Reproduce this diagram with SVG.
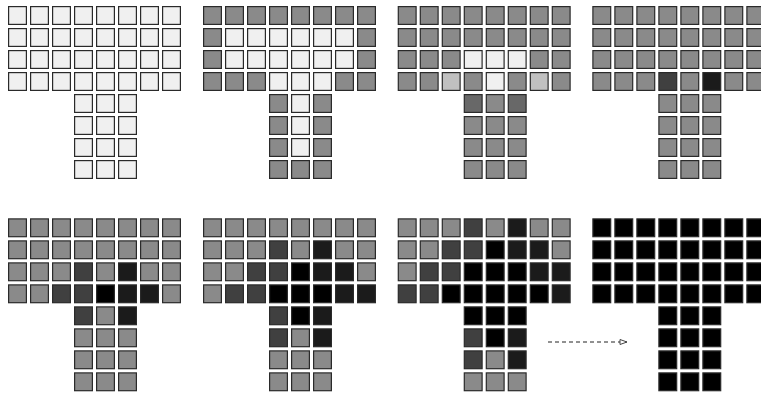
<svg xmlns="http://www.w3.org/2000/svg" xmlns:xlink="http://www.w3.org/1999/xlink" width="761" height="395" viewBox="0 0 761 395">
<style>
.w{fill:#f0f0f0}.g{fill:#8a8a8a}.l{fill:#c0c0c0}.m{fill:#686868}.d{fill:#404040}.k{fill:#1b1b1b}.b{fill:#000}
#c{stroke:#2a2a2a;stroke-width:1.2}
.conn{fill:none;stroke:#222;stroke-width:1;stroke-dasharray:4 3}
</style>
<defs>
<rect id="c" x="0" y="0" width="17.8" height="17.8"/>
<marker id="ah" markerWidth="10" markerHeight="8" refX="8" refY="4" orient="auto" markerUnits="userSpaceOnUse">
<path d="M1,1.5 L8,4 L1,6.5 Z" fill="#fff" stroke="#444" stroke-width="1"/>
</marker>
</defs>
<rect width="761" height="395" fill="#fff"/>

<g id="panel1" class="w" transform="translate(8.6,6.6)">
<use href="#c" x="0" y="0"/><use href="#c" x="22" y="0"/><use href="#c" x="44" y="0"/><use href="#c" x="66" y="0"/><use href="#c" x="88" y="0"/><use href="#c" x="110" y="0"/><use href="#c" x="132" y="0"/><use href="#c" x="154" y="0"/>
<use href="#c" x="0" y="22"/><use href="#c" x="22" y="22"/><use href="#c" x="44" y="22"/><use href="#c" x="66" y="22"/><use href="#c" x="88" y="22"/><use href="#c" x="110" y="22"/><use href="#c" x="132" y="22"/><use href="#c" x="154" y="22"/>
<use href="#c" x="0" y="44"/><use href="#c" x="22" y="44"/><use href="#c" x="44" y="44"/><use href="#c" x="66" y="44"/><use href="#c" x="88" y="44"/><use href="#c" x="110" y="44"/><use href="#c" x="132" y="44"/><use href="#c" x="154" y="44"/>
<use href="#c" x="0" y="66"/><use href="#c" x="22" y="66"/><use href="#c" x="44" y="66"/><use href="#c" x="66" y="66"/><use href="#c" x="88" y="66"/><use href="#c" x="110" y="66"/><use href="#c" x="132" y="66"/><use href="#c" x="154" y="66"/>
<use href="#c" x="66" y="88"/><use href="#c" x="88" y="88"/><use href="#c" x="110" y="88"/>
<use href="#c" x="66" y="110"/><use href="#c" x="88" y="110"/><use href="#c" x="110" y="110"/>
<use href="#c" x="66" y="132"/><use href="#c" x="88" y="132"/><use href="#c" x="110" y="132"/>
<use href="#c" x="66" y="154"/><use href="#c" x="88" y="154"/><use href="#c" x="110" y="154"/>
</g>

<g id="panel2" class="g" transform="translate(203.6,6.6)">
<use href="#c" x="0" y="0"/><use href="#c" x="22" y="0"/><use href="#c" x="44" y="0"/><use href="#c" x="66" y="0"/><use href="#c" x="88" y="0"/><use href="#c" x="110" y="0"/><use href="#c" x="132" y="0"/><use href="#c" x="154" y="0"/>
<use href="#c" x="0" y="22"/><use href="#c" class="w" x="22" y="22"/><use href="#c" class="w" x="44" y="22"/><use href="#c" class="w" x="66" y="22"/><use href="#c" class="w" x="88" y="22"/><use href="#c" class="w" x="110" y="22"/><use href="#c" class="w" x="132" y="22"/><use href="#c" x="154" y="22"/>
<use href="#c" x="0" y="44"/><use href="#c" class="w" x="22" y="44"/><use href="#c" class="w" x="44" y="44"/><use href="#c" class="w" x="66" y="44"/><use href="#c" class="w" x="88" y="44"/><use href="#c" class="w" x="110" y="44"/><use href="#c" class="w" x="132" y="44"/><use href="#c" x="154" y="44"/>
<use href="#c" x="0" y="66"/><use href="#c" x="22" y="66"/><use href="#c" x="44" y="66"/><use href="#c" class="w" x="66" y="66"/><use href="#c" class="w" x="88" y="66"/><use href="#c" class="w" x="110" y="66"/><use href="#c" x="132" y="66"/><use href="#c" x="154" y="66"/>
<use href="#c" x="66" y="88"/><use href="#c" class="w" x="88" y="88"/><use href="#c" x="110" y="88"/>
<use href="#c" x="66" y="110"/><use href="#c" class="w" x="88" y="110"/><use href="#c" x="110" y="110"/>
<use href="#c" x="66" y="132"/><use href="#c" class="w" x="88" y="132"/><use href="#c" x="110" y="132"/>
<use href="#c" x="66" y="154"/><use href="#c" x="88" y="154"/><use href="#c" x="110" y="154"/>
</g>

<g id="panel3" class="g" transform="translate(398.3,6.6)">
<use href="#c" x="0" y="0"/><use href="#c" x="22" y="0"/><use href="#c" x="44" y="0"/><use href="#c" x="66" y="0"/><use href="#c" x="88" y="0"/><use href="#c" x="110" y="0"/><use href="#c" x="132" y="0"/><use href="#c" x="154" y="0"/>
<use href="#c" x="0" y="22"/><use href="#c" x="22" y="22"/><use href="#c" x="44" y="22"/><use href="#c" x="66" y="22"/><use href="#c" x="88" y="22"/><use href="#c" x="110" y="22"/><use href="#c" x="132" y="22"/><use href="#c" x="154" y="22"/>
<use href="#c" x="0" y="44"/><use href="#c" x="22" y="44"/><use href="#c" x="44" y="44"/><use href="#c" class="w" x="66" y="44"/><use href="#c" class="w" x="88" y="44"/><use href="#c" class="w" x="110" y="44"/><use href="#c" x="132" y="44"/><use href="#c" x="154" y="44"/>
<use href="#c" x="0" y="66"/><use href="#c" x="22" y="66"/><use href="#c" class="l" x="44" y="66"/><use href="#c" x="66" y="66"/><use href="#c" class="w" x="88" y="66"/><use href="#c" x="110" y="66"/><use href="#c" class="l" x="132" y="66"/><use href="#c" x="154" y="66"/>
<use href="#c" class="m" x="66" y="88"/><use href="#c" x="88" y="88"/><use href="#c" class="m" x="110" y="88"/>
<use href="#c" x="66" y="110"/><use href="#c" x="88" y="110"/><use href="#c" x="110" y="110"/>
<use href="#c" x="66" y="132"/><use href="#c" x="88" y="132"/><use href="#c" x="110" y="132"/>
<use href="#c" x="66" y="154"/><use href="#c" x="88" y="154"/><use href="#c" x="110" y="154"/>
</g>

<g id="panel4" class="g" transform="translate(592.9,6.6)">
<use href="#c" x="0" y="0"/><use href="#c" x="22" y="0"/><use href="#c" x="44" y="0"/><use href="#c" x="66" y="0"/><use href="#c" x="88" y="0"/><use href="#c" x="110" y="0"/><use href="#c" x="132" y="0"/><use href="#c" x="154" y="0"/>
<use href="#c" x="0" y="22"/><use href="#c" x="22" y="22"/><use href="#c" x="44" y="22"/><use href="#c" x="66" y="22"/><use href="#c" x="88" y="22"/><use href="#c" x="110" y="22"/><use href="#c" x="132" y="22"/><use href="#c" x="154" y="22"/>
<use href="#c" x="0" y="44"/><use href="#c" x="22" y="44"/><use href="#c" x="44" y="44"/><use href="#c" x="66" y="44"/><use href="#c" x="88" y="44"/><use href="#c" x="110" y="44"/><use href="#c" x="132" y="44"/><use href="#c" x="154" y="44"/>
<use href="#c" x="0" y="66"/><use href="#c" x="22" y="66"/><use href="#c" x="44" y="66"/><use href="#c" class="d" x="66" y="66"/><use href="#c" x="88" y="66"/><use href="#c" class="k" x="110" y="66"/><use href="#c" x="132" y="66"/><use href="#c" x="154" y="66"/>
<use href="#c" x="66" y="88"/><use href="#c" x="88" y="88"/><use href="#c" x="110" y="88"/>
<use href="#c" x="66" y="110"/><use href="#c" x="88" y="110"/><use href="#c" x="110" y="110"/>
<use href="#c" x="66" y="132"/><use href="#c" x="88" y="132"/><use href="#c" x="110" y="132"/>
<use href="#c" x="66" y="154"/><use href="#c" x="88" y="154"/><use href="#c" x="110" y="154"/>
</g>

<g id="panel5" class="g" transform="translate(8.6,218.9)">
<use href="#c" x="0" y="0"/><use href="#c" x="22" y="0"/><use href="#c" x="44" y="0"/><use href="#c" x="66" y="0"/><use href="#c" x="88" y="0"/><use href="#c" x="110" y="0"/><use href="#c" x="132" y="0"/><use href="#c" x="154" y="0"/>
<use href="#c" x="0" y="22"/><use href="#c" x="22" y="22"/><use href="#c" x="44" y="22"/><use href="#c" x="66" y="22"/><use href="#c" x="88" y="22"/><use href="#c" x="110" y="22"/><use href="#c" x="132" y="22"/><use href="#c" x="154" y="22"/>
<use href="#c" x="0" y="44"/><use href="#c" x="22" y="44"/><use href="#c" x="44" y="44"/><use href="#c" class="d" x="66" y="44"/><use href="#c" x="88" y="44"/><use href="#c" class="k" x="110" y="44"/><use href="#c" x="132" y="44"/><use href="#c" x="154" y="44"/>
<use href="#c" x="0" y="66"/><use href="#c" x="22" y="66"/><use href="#c" class="d" x="44" y="66"/><use href="#c" class="d" x="66" y="66"/><use href="#c" class="b" x="88" y="66"/><use href="#c" class="k" x="110" y="66"/><use href="#c" class="k" x="132" y="66"/><use href="#c" x="154" y="66"/>
<use href="#c" class="d" x="66" y="88"/><use href="#c" x="88" y="88"/><use href="#c" class="k" x="110" y="88"/>
<use href="#c" x="66" y="110"/><use href="#c" x="88" y="110"/><use href="#c" x="110" y="110"/>
<use href="#c" x="66" y="132"/><use href="#c" x="88" y="132"/><use href="#c" x="110" y="132"/>
<use href="#c" x="66" y="154"/><use href="#c" x="88" y="154"/><use href="#c" x="110" y="154"/>
</g>

<g id="panel6" class="g" transform="translate(203.6,218.9)">
<use href="#c" x="0" y="0"/><use href="#c" x="22" y="0"/><use href="#c" x="44" y="0"/><use href="#c" x="66" y="0"/><use href="#c" x="88" y="0"/><use href="#c" x="110" y="0"/><use href="#c" x="132" y="0"/><use href="#c" x="154" y="0"/>
<use href="#c" x="0" y="22"/><use href="#c" x="22" y="22"/><use href="#c" x="44" y="22"/><use href="#c" class="d" x="66" y="22"/><use href="#c" x="88" y="22"/><use href="#c" class="k" x="110" y="22"/><use href="#c" x="132" y="22"/><use href="#c" x="154" y="22"/>
<use href="#c" x="0" y="44"/><use href="#c" x="22" y="44"/><use href="#c" class="d" x="44" y="44"/><use href="#c" class="d" x="66" y="44"/><use href="#c" class="b" x="88" y="44"/><use href="#c" class="k" x="110" y="44"/><use href="#c" class="k" x="132" y="44"/><use href="#c" x="154" y="44"/>
<use href="#c" x="0" y="66"/><use href="#c" class="d" x="22" y="66"/><use href="#c" class="d" x="44" y="66"/><use href="#c" class="b" x="66" y="66"/><use href="#c" class="b" x="88" y="66"/><use href="#c" class="b" x="110" y="66"/><use href="#c" class="k" x="132" y="66"/><use href="#c" class="k" x="154" y="66"/>
<use href="#c" class="d" x="66" y="88"/><use href="#c" class="b" x="88" y="88"/><use href="#c" class="k" x="110" y="88"/>
<use href="#c" class="d" x="66" y="110"/><use href="#c" x="88" y="110"/><use href="#c" class="k" x="110" y="110"/>
<use href="#c" x="66" y="132"/><use href="#c" x="88" y="132"/><use href="#c" x="110" y="132"/>
<use href="#c" x="66" y="154"/><use href="#c" x="88" y="154"/><use href="#c" x="110" y="154"/>
</g>

<g id="panel7" class="g" transform="translate(398.3,218.9)">
<use href="#c" x="0" y="0"/><use href="#c" x="22" y="0"/><use href="#c" x="44" y="0"/><use href="#c" class="d" x="66" y="0"/><use href="#c" x="88" y="0"/><use href="#c" class="k" x="110" y="0"/><use href="#c" x="132" y="0"/><use href="#c" x="154" y="0"/>
<use href="#c" x="0" y="22"/><use href="#c" x="22" y="22"/><use href="#c" class="d" x="44" y="22"/><use href="#c" class="d" x="66" y="22"/><use href="#c" class="b" x="88" y="22"/><use href="#c" class="k" x="110" y="22"/><use href="#c" class="k" x="132" y="22"/><use href="#c" x="154" y="22"/>
<use href="#c" x="0" y="44"/><use href="#c" class="d" x="22" y="44"/><use href="#c" class="d" x="44" y="44"/><use href="#c" class="b" x="66" y="44"/><use href="#c" class="b" x="88" y="44"/><use href="#c" class="b" x="110" y="44"/><use href="#c" class="k" x="132" y="44"/><use href="#c" class="k" x="154" y="44"/>
<use href="#c" class="d" x="0" y="66"/><use href="#c" class="d" x="22" y="66"/><use href="#c" class="b" x="44" y="66"/><use href="#c" class="b" x="66" y="66"/><use href="#c" class="b" x="88" y="66"/><use href="#c" class="b" x="110" y="66"/><use href="#c" class="b" x="132" y="66"/><use href="#c" class="k" x="154" y="66"/>
<use href="#c" class="b" x="66" y="88"/><use href="#c" class="b" x="88" y="88"/><use href="#c" class="b" x="110" y="88"/>
<use href="#c" class="d" x="66" y="110"/><use href="#c" class="b" x="88" y="110"/><use href="#c" class="k" x="110" y="110"/>
<use href="#c" class="d" x="66" y="132"/><use href="#c" x="88" y="132"/><use href="#c" class="k" x="110" y="132"/>
<use href="#c" x="66" y="154"/><use href="#c" x="88" y="154"/><use href="#c" x="110" y="154"/>
</g>

<g id="panel8" class="b" transform="translate(592.9,218.9)">
<use href="#c" x="0" y="0"/><use href="#c" x="22" y="0"/><use href="#c" x="44" y="0"/><use href="#c" x="66" y="0"/><use href="#c" x="88" y="0"/><use href="#c" x="110" y="0"/><use href="#c" x="132" y="0"/><use href="#c" x="154" y="0"/>
<use href="#c" x="0" y="22"/><use href="#c" x="22" y="22"/><use href="#c" x="44" y="22"/><use href="#c" x="66" y="22"/><use href="#c" x="88" y="22"/><use href="#c" x="110" y="22"/><use href="#c" x="132" y="22"/><use href="#c" x="154" y="22"/>
<use href="#c" x="0" y="44"/><use href="#c" x="22" y="44"/><use href="#c" x="44" y="44"/><use href="#c" x="66" y="44"/><use href="#c" x="88" y="44"/><use href="#c" x="110" y="44"/><use href="#c" x="132" y="44"/><use href="#c" x="154" y="44"/>
<use href="#c" x="0" y="66"/><use href="#c" x="22" y="66"/><use href="#c" x="44" y="66"/><use href="#c" x="66" y="66"/><use href="#c" x="88" y="66"/><use href="#c" x="110" y="66"/><use href="#c" x="132" y="66"/><use href="#c" x="154" y="66"/>
<use href="#c" x="66" y="88"/><use href="#c" x="88" y="88"/><use href="#c" x="110" y="88"/>
<use href="#c" x="66" y="110"/><use href="#c" x="88" y="110"/><use href="#c" x="110" y="110"/>
<use href="#c" x="66" y="132"/><use href="#c" x="88" y="132"/><use href="#c" x="110" y="132"/>
<use href="#c" x="66" y="154"/><use href="#c" x="88" y="154"/><use href="#c" x="110" y="154"/>
</g>

<g id="connectors">
<path class="conn" d="M548,342 H627" marker-end="url(#ah)"/>
</g>
</svg>
